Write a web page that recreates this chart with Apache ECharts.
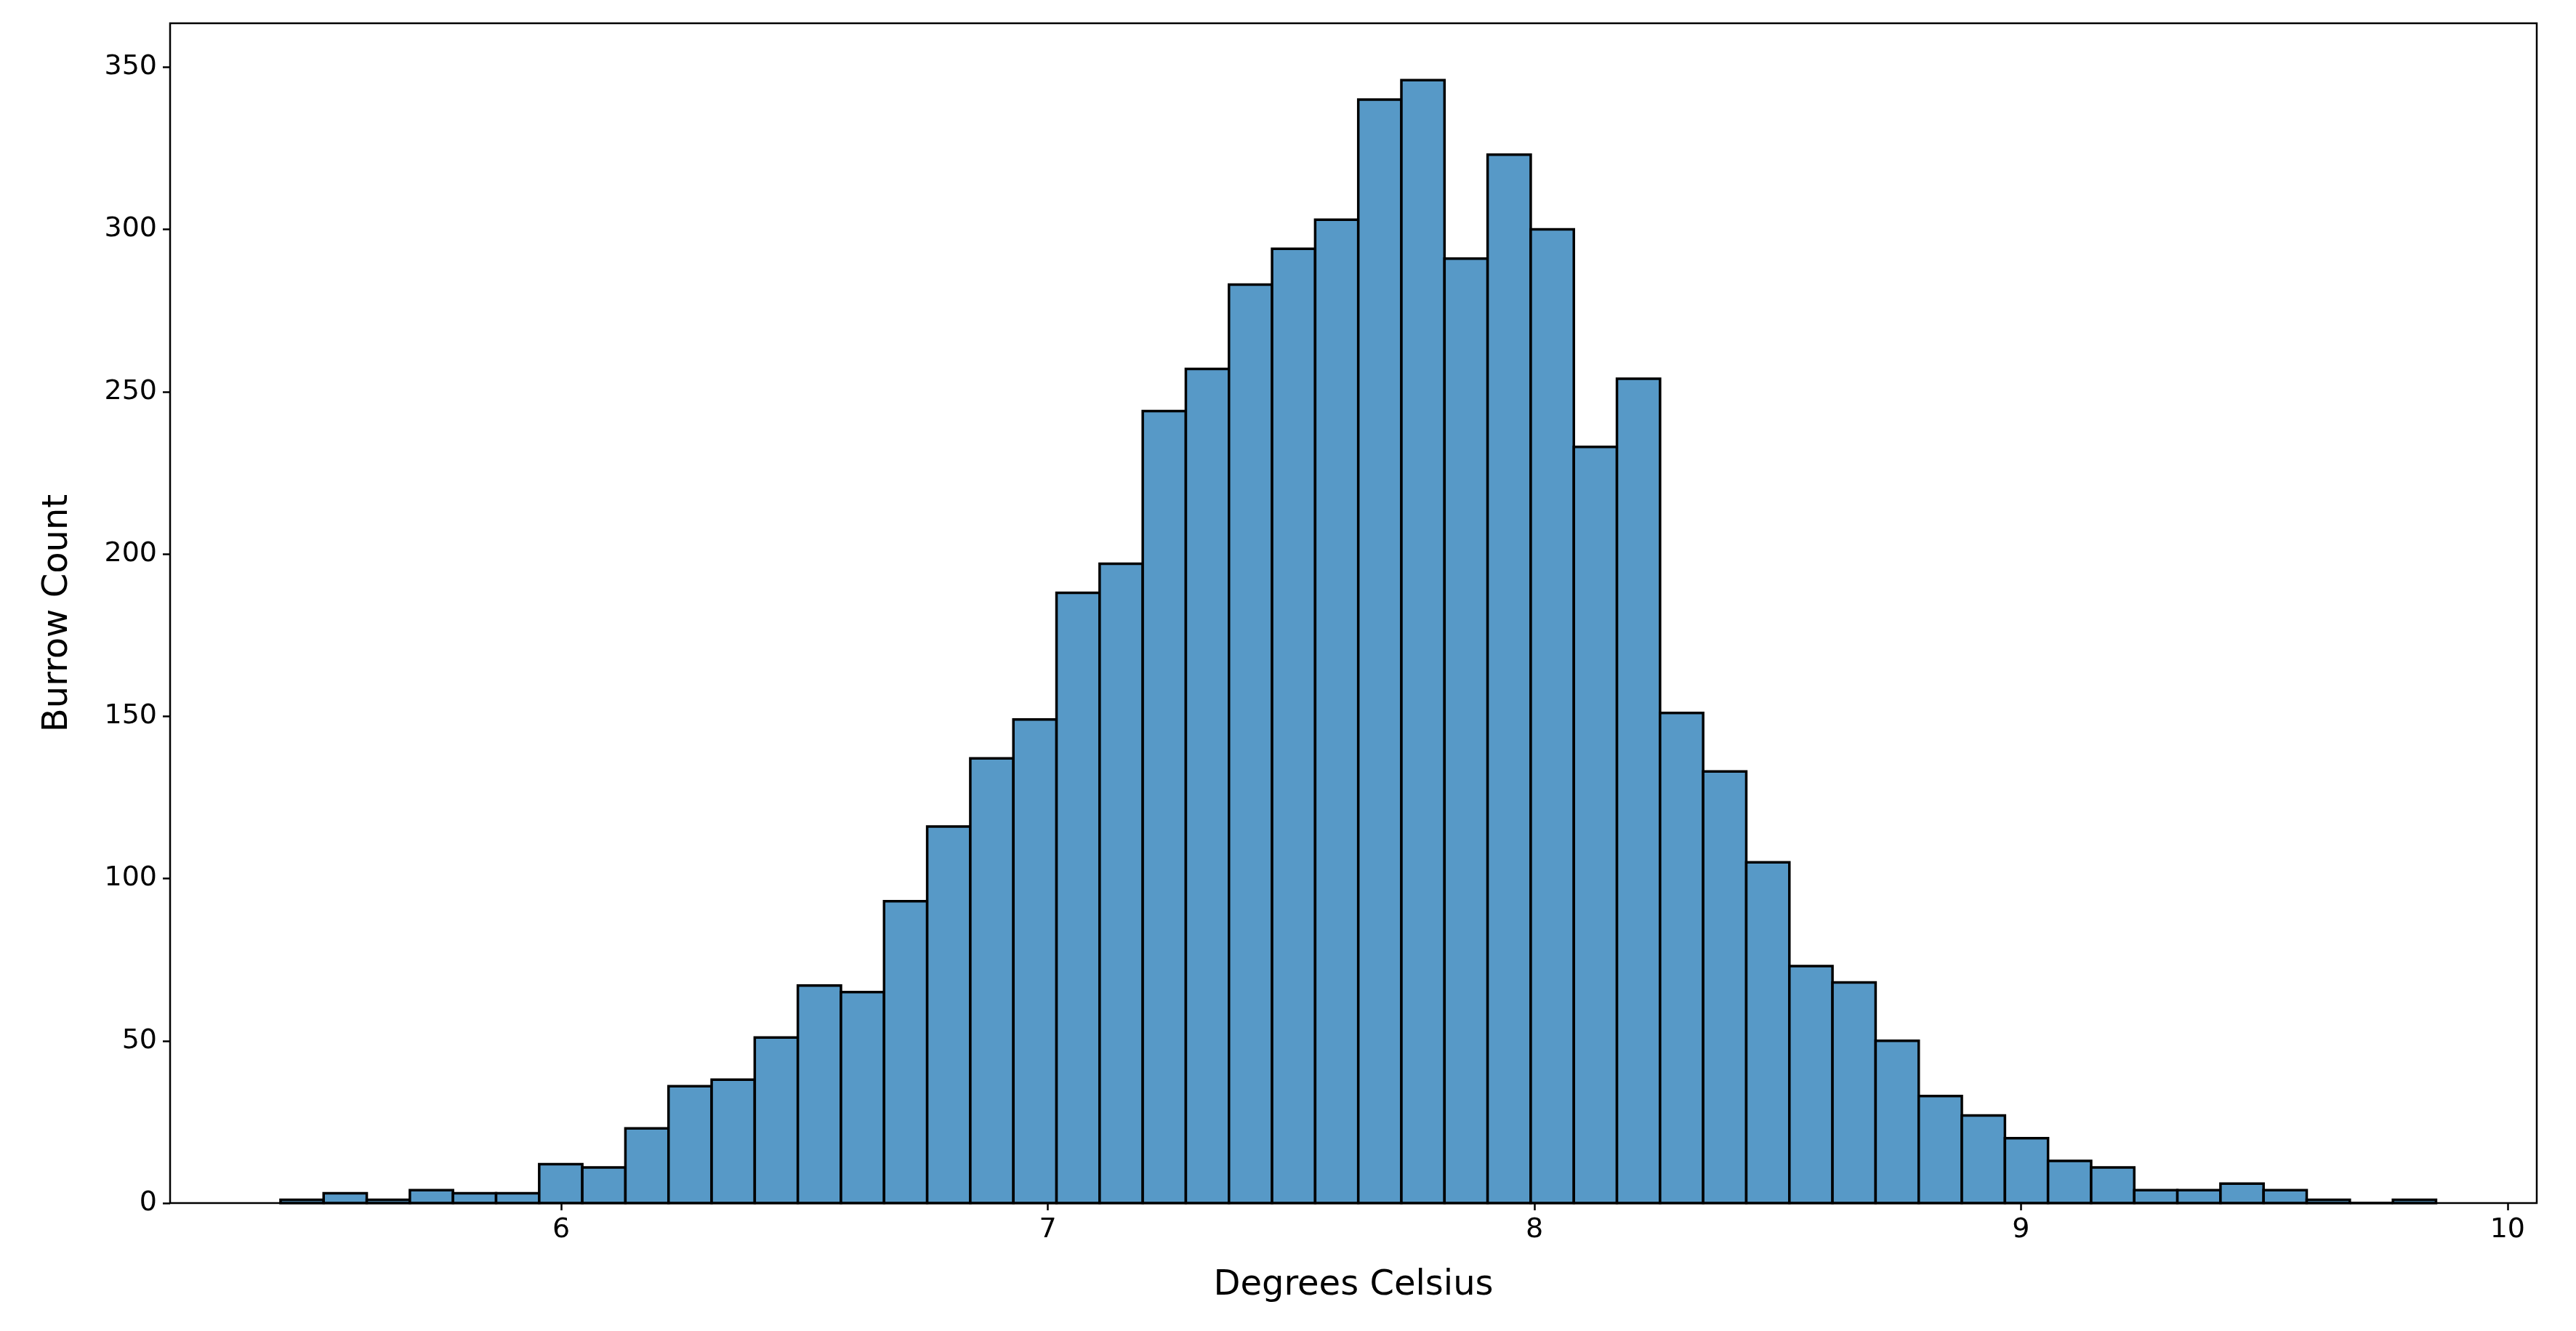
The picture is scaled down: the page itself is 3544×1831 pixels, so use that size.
<!DOCTYPE html>
<html><head><meta charset="utf-8">
<script src="https://cdn.jsdelivr.net/npm/echarts@6/dist/echarts.min.js"></script>
<style>html,body{margin:0;padding:0;background:#fff}#c{width:3544px;height:1831px}</style>
</head><body><div id="c"></div>
<script>
const binStart = 5.423;
const binWidth = 0.0886;
const counts = [1,3,1,4,3,3,12,11,23,36,38,51,67,65,93,116,137,149,188,197,244,257,283,294,303,340,346,291,323,300,233,254,151,133,105,73,68,50,33,27,20,13,11,4,4,6,4,1,0,1];
const xTicks = [6,7,8,9,10];
const yTicks = [0,50,100,150,200,250,300,350];
const xTitle = 'Degrees Celsius';
const yTitle = 'Burrow Count';

const data = counts.map((c,i)=>[binStart+i*binWidth, binStart+(i+1)*binWidth, c]);
const chart = echarts.init(document.getElementById('c'));
const font = 'DejaVu Sans';
chart.setOption({
  animation:false,
  grid:{left:234,right:54,top:32,bottom:176,show:true,borderColor:'#000',borderWidth:2.5,backgroundColor:'transparent'},
  xAxis:{type:'value',min:5.196,max:10.06,
    axisLine:{show:false},splitLine:{show:false},
    axisTick:{show:true,length:10,lineStyle:{color:'#000',width:2.5},customValues:xTicks},
    axisLabel:{fontFamily:font,fontSize:38,color:'#000',margin:18,customValues:xTicks},
    name:xTitle,nameLocation:'middle',nameGap:90,nameTextStyle:{fontFamily:font,fontSize:48,color:'#000'}},
  yAxis:{type:'value',min:0,max:363.5,
    axisLine:{show:false},splitLine:{show:false},
    axisTick:{show:true,length:10,lineStyle:{color:'#000',width:2.5},customValues:yTicks},
    axisLabel:{fontFamily:font,fontSize:38,color:'#000',margin:18,customValues:yTicks},
    name:yTitle,nameLocation:'middle',nameGap:130,nameTextStyle:{fontFamily:font,fontSize:48,color:'#000'}},
  series:[{type:'custom',data:data,encode:{x:[0,1],y:2},
    renderItem:function(params,api){
      const p0=api.coord([api.value(0),api.value(2)]);
      const p1=api.coord([api.value(1),0]);
      return {type:'rect',shape:{x:p0[0],y:p0[1],width:p1[0]-p0[0],height:p1[1]-p0[1]},
        style:{fill:'#5799c7',stroke:'#000',lineWidth:3.5}};
    }}]
});
</script></body></html>
